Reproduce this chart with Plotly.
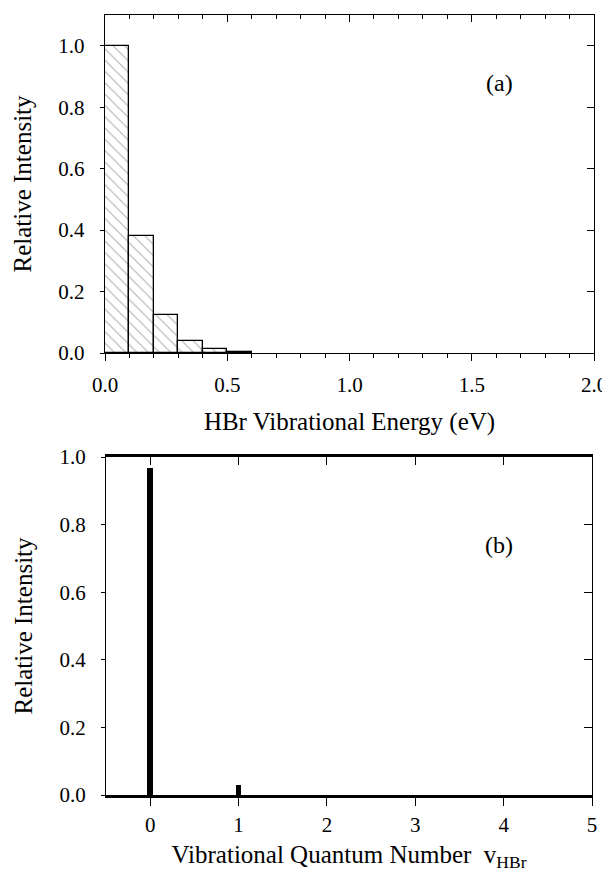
import plotly.graph_objects as go

# Panel (a): HBr vibrational energy histogram
energy_bin_left = [0.0, 0.1, 0.2, 0.3, 0.4, 0.5]
energy_bin_width = 0.1
energy_intensity = [1.0, 0.38, 0.124, 0.04, 0.014, 0.003]

# Panel (b): vibrational quantum number distribution
v_hbr = [0, 1, 2, 3, 4]
v_intensity = [0.967, 0.03, 0.0, 0.0, 0.0]

FONT = "Liberation Serif"
OFF = 8  # default page body margin
W, H = 610 - OFF, 879 - OFF

fig = go.Figure()

fig.add_trace(go.Bar(
    x=[l + energy_bin_width / 2 for l in energy_bin_left],
    y=energy_intensity,
    width=energy_bin_width,
    marker=dict(color="white",
                line=dict(color="black", width=1.3),
                pattern=dict(shape="\\", fgcolor="#555555", bgcolor="white",
                             size=8, solidity=0.12)),
    xaxis="x", yaxis="y", showlegend=False,
))

fig.add_trace(go.Bar(
    x=v_hbr, y=v_intensity, width=0.065,
    marker=dict(color="black", line=dict(width=0)),
    xaxis="x2", yaxis="y2", showlegend=False,
))

def px_x(p):
    return (p - OFF) / W

def px_y(p):
    return 1 - (p - OFF) / H

dom_a_x = [px_x(105), px_x(594)]
dom_a_y = [px_y(353), px_y(15)]
dom_b_x = [px_x(106), px_x(592)]
dom_b_y = [px_y(795), px_y(457)]

tickfont = dict(family=FONT, size=21, color="black")
titlefont = dict(family=FONT, size=25, color="black")

common = dict(showgrid=False, zeroline=False, linecolor="black", showline=True,
              tickcolor="black", tickwidth=1.3, automargin=False)

fig.update_layout(
    width=W, height=H,
    margin=dict(l=0, r=0, t=0, b=0),
    paper_bgcolor="white", plot_bgcolor="white",
    bargap=0,
    font=dict(family=FONT, color="black"),
    # Panel (a)
    xaxis=dict(domain=dom_a_x, range=[0, 2.0], anchor="y", ticks="outside", ticklen=7,
               tickvals=[0, 0.5, 1.0, 1.5, 2.0], ticktext=["0.0", "0.5", "1.0", "1.5", "2.0"],
               minor=dict(dtick=0.1, ticks="outside", ticklen=4, tickcolor="black", tickwidth=1.2),
               linewidth=1.4, tickfont=tickfont, ticklabelstandoff=6,
               title=dict(text="HBr Vibrational Energy (eV)", font=titlefont, standoff=16),
               **common),
    yaxis=dict(domain=dom_a_y, range=[0, 1.1], anchor="x", ticks="outside", ticklen=4,
               tickvals=[0, 0.2, 0.4, 0.6, 0.8, 1.0], tickformat=".1f",
               linewidth=1.4, tickfont=tickfont, ticklabelstandoff=11,
               title=dict(text="Relative Intensity", font=titlefont, standoff=19),
               **common),
    xaxis3=dict(domain=dom_a_x, range=[0, 2.0], overlaying="x", side="top", anchor="y",
                ticks="inside", ticklen=7, tickvals=[0, 0.5, 1.0, 1.5, 2.0], showticklabels=False,
                minor=dict(dtick=0.1, ticks="inside", ticklen=4, tickcolor="black", tickwidth=1.2),
                linewidth=1.4, **common),
    yaxis3=dict(domain=dom_a_y, range=[0, 1.1], overlaying="y", side="right", anchor="x",
                ticks="inside", ticklen=7, tickvals=[0, 0.2, 0.4, 0.6, 0.8, 1.0], showticklabels=False,
                linewidth=1.4, **common),
    # Panel (b)
    xaxis2=dict(domain=dom_b_x, range=[-0.5, 5], anchor="y2", ticks="outside", ticklen=8,
                tickvals=[0, 1, 2, 3, 4, 5], linewidth=2.6, tickfont=tickfont, ticklabelstandoff=1,
                title=dict(text="Vibrational Quantum Number  v<sub>HBr</sub>", font=titlefont, standoff=10),
                **common),
    yaxis2=dict(domain=dom_b_y, range=[0, 1.0], anchor="x2", ticks="outside", ticklen=4,
                tickvals=[0, 0.2, 0.4, 0.6, 0.8, 1.0], tickformat=".1f", linewidth=1.2,
                tickfont=tickfont, ticklabelstandoff=11,
                title=dict(text="Relative Intensity", font=titlefont, standoff=19),
                **common),
    xaxis4=dict(domain=dom_b_x, range=[-0.5, 5], overlaying="x2", side="top", anchor="y2",
                ticks="inside", ticklen=8, tickvals=[0, 1, 2, 3, 4, 5], showticklabels=False,
                linewidth=2.6, **common),
    yaxis4=dict(domain=dom_b_y, range=[0, 1.0], overlaying="y2", side="right", anchor="x2",
                ticks="inside", ticklen=8, tickvals=[0, 0.2, 0.4, 0.6, 0.8, 1.0], showticklabels=False,
                linewidth=1.4, **common),
    annotations=[
        dict(text="(a)", x=0.806, y=0.800, xref="x domain", yref="y domain",
             xanchor="center", yanchor="middle",
             showarrow=False, font=dict(family=FONT, size=24, color="black")),
        dict(text="(b)", x=0.808, y=0.740, xref="x2 domain", yref="y2 domain",
             xanchor="center", yanchor="middle",
             showarrow=False, font=dict(family=FONT, size=24, color="black")),
    ],
)

# Overlay axes need a trace to be rendered
fig.add_trace(go.Scatter(x=[None], y=[None], xaxis="x3", yaxis="y3", showlegend=False, hoverinfo="skip"))
fig.add_trace(go.Scatter(x=[None], y=[None], xaxis="x4", yaxis="y4", showlegend=False, hoverinfo="skip"))

fig.write_html("out.html")
